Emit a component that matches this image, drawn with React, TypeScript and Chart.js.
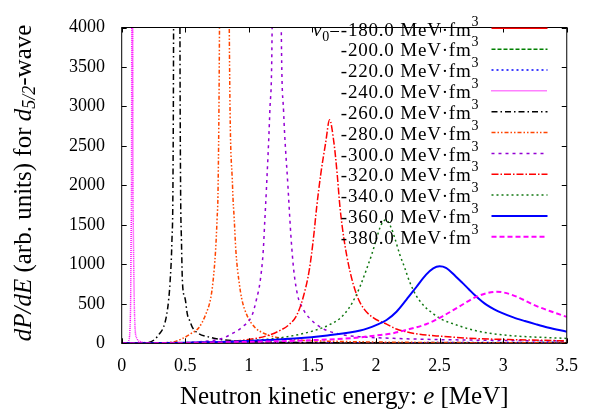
import React, { useEffect, useRef } from "react";
import { Chart, registerables } from "chart.js";
Chart.register(...registerables);

const xTickValues = [0, 0.5, 1, 1.5, 2, 2.5, 3, 3.5];
const yTickValues = [0, 500, 1000, 1500, 2000, 2500, 3000, 3500, 4000];
const potentialLabels = ["-180.0", "-200.0", "-220.0", "-240.0", "-260.0", "-280.0", "-300.0", "-320.0", "-340.0", "-360.0", "-380.0"];

// energies (MeV) and dP/dE values per potential
const e180 = [0, 0.5, 1, 1.5, 2, 2.5, 3, 3.5];
const p180 = [0, 1, 2, 3, 4, 5, 6, 7];
const e200 = [0, 0.5, 1, 1.5, 2, 2.5, 3, 3.5];
const p200 = [0, 1, 2, 4, 5, 7, 8, 9];
const e220 = [0, 0.5, 1, 1.5, 2, 2.5, 3, 3.5];
const p220 = [0, 2, 3, 5, 7, 9, 11, 12];
const e240 = [0, 0.04, 0.055, 0.064, 0.07, 0.075, 0.079, 0.083, 0.087, 0.091, 0.098, 0.105, 0.12, 0.15, 0.2, 0.4, 1.0, 2.0, 3.5];
const p240 = [0, 5, 30, 150, 500, 1500, 4000, 40000, 4000, 1500, 600, 200, 60, 20, 8, 3, 1, 0.5, 0];
const e260 = [0, 0.1, 0.2, 0.259, 0.297, 0.328, 0.354, 0.37, 0.38, 0.395, 0.403, 0.408, 0.433, 0.458, 0.463, 0.47, 0.478, 0.499, 0.517, 0.536, 0.556, 0.608, 0.686, 0.776, 0.9, 1.0, 1.5, 2.0, 2.5, 3.0, 3.5];
const p260 = [0, 1, 6, 48, 121, 201, 363, 564, 766, 1300, 2000, 4000, 30000, 4000, 2000, 1300, 766, 564, 363, 282, 201, 121, 80, 48, 30, 22, 10, 6, 4, 3, 2];
const e280 = [0, 0.2, 0.4, 0.478, 0.543, 0.608, 0.66, 0.699, 0.717, 0.738, 0.75, 0.758, 0.769, 0.807, 0.846, 0.872, 0.885, 0.898, 0.924, 0.944, 0.983, 1.048, 1.126, 1.25, 1.4, 1.6, 2.0, 2.5, 3.0, 3.5];
const p280 = [0, 3, 15, 60, 121, 201, 363, 564, 766, 1169, 1573, 1976, 4000, 20000, 4000, 1976, 1573, 1169, 766, 564, 363, 201, 121, 65, 40, 28, 16, 10, 7, 5];
const e300 = [0, 0.3, 0.5, 0.65, 0.789, 0.866, 0.944, 1.027, 1.061, 1.087, 1.113, 1.126, 1.138, 1.165, 1.183, 1.22, 1.255, 1.273, 1.307, 1.332, 1.353, 1.384, 1.423, 1.475, 1.565, 1.7, 1.9, 2.1, 2.4, 2.8, 3.2, 3.5];
const p300 = [0, 3, 8, 25, 60, 121, 201, 363, 564, 766, 1169, 1573, 1950, 2943, 4000, 15000, 4000, 2943, 2000, 1331, 927, 605, 443, 322, 201, 121, 80, 65, 50, 40, 33, 30];
const e320 = [0, 0.5, 0.8, 1.048, 1.151, 1.229, 1.32, 1.379, 1.431, 1.475, 1.508, 1.534, 1.565, 1.604, 1.635, 1.669, 1.695, 1.716, 1.747, 1.793, 1.85, 1.902, 1.98, 2.083, 2.16, 2.316, 2.52, 2.78, 3.04, 3.5];
const p320 = [0, 5, 20, 60, 100, 150, 242, 363, 605, 927, 1331, 1734, 2137, 2541, 2830, 2541, 2137, 1734, 1331, 927, 605, 443, 322, 242, 181, 121, 88, 60, 48, 31];
const e340 = [0, 0.5, 1.0, 1.2, 1.359, 1.514, 1.643, 1.721, 1.786, 1.843, 1.876, 1.923, 1.967, 2.005, 2.035, 2.077, 2.115, 2.148, 2.186, 2.225, 2.264, 2.316, 2.368, 2.446, 2.52, 2.601, 2.78, 3.04, 3.377, 3.5];
const p340 = [0, 8, 35, 60, 100, 161, 242, 322, 443, 605, 726, 927, 1129, 1331, 1480, 1565, 1480, 1331, 1129, 960, 780, 605, 490, 380, 300, 250, 161, 100, 70, 62];
const e360 = [0, 0.5, 1.0, 1.359, 1.617, 1.876, 2.005, 2.083, 2.161, 2.238, 2.316, 2.394, 2.45, 2.5, 2.55, 2.627, 2.68, 2.73, 2.78, 2.834, 2.87, 2.93, 2.989, 3.08, 3.17, 3.26, 3.35, 3.5];
const p360 = [0, 8, 30, 60, 100, 161, 234, 295, 400, 550, 710, 870, 950, 975, 955, 847, 765, 685, 605, 530, 487, 430, 385, 328, 282, 240, 201, 147];
const e380 = [0, 0.5, 1.0, 1.5, 1.8, 2.005, 2.135, 2.264, 2.394, 2.523, 2.652, 2.782, 2.85, 2.95, 3.0, 3.1, 3.25, 3.4, 3.5];
const p380 = [0, 5, 18, 40, 65, 100, 128, 181, 242, 342, 463, 584, 625, 653, 645, 595, 480, 390, 335];

const seriesE = [e180, e200, e220, e240, e260, e280, e300, e320, e340, e360, e380];
const seriesP = [p180, p200, p220, p240, p260, p280, p300, p320, p340, p360, p380];

const lineColors = ["#ff0000", "#008000", "#0000ff", "#ff00ff", "#000000", "#ff4500", "#9400d3", "#ff0000", "#117711", "#0000ff", "#ff00ff"];
const lineDashes = [[], [4, 2], [2, 3], [1, 1], [6, 3, 1.5, 3], [4, 2, 1.5, 2, 1.5, 2], [3, 4], [7, 2, 1.5, 2], [2, 3], [], [5, 3]];
const lineWidths = [1.5, 1.5, 1.5, 1.5, 1.5, 1.5, 1.5, 1.5, 1.5, 2, 2];

const SERIF = "'Liberation Serif', 'Times New Roman', serif";

type Piece = { t: string; font: string; dy?: number; sp?: number };

function pieceWidth(ctx: CanvasRenderingContext2D, p: Piece) {
  ctx.font = p.font;
  if (!p.sp) return ctx.measureText(p.t).width;
  let w = 0;
  for (const ch of p.t) w += ctx.measureText(ch).width + p.sp;
  return w;
}

function drawRich(ctx: CanvasRenderingContext2D, pieces: Piece[], x: number, y: number, align: string) {
  let w = 0;
  for (const p of pieces) w += pieceWidth(ctx, p);
  let cx = align === "right" ? x - w : align === "center" ? x - w / 2 : x;
  ctx.textAlign = "left";
  ctx.textBaseline = "alphabetic";
  for (const p of pieces) {
    ctx.font = p.font;
    if (!p.sp) {
      ctx.fillText(p.t, cx, y + (p.dy || 0));
      cx += ctx.measureText(p.t).width;
    } else {
      for (const ch of p.t) {
        ctx.fillText(ch, cx, y + (p.dy || 0));
        cx += ctx.measureText(ch).width + p.sp;
      }
    }
  }
}

const decorPlugin = {
  id: "decor",
  afterDraw(chart: any) {
    const ctx: CanvasRenderingContext2D = chart.ctx;
    const { left, right, top, bottom } = chart.chartArea;
    const xs = chart.scales.x;
    const ys = chart.scales.y;
    ctx.save();
    ctx.strokeStyle = "#000";
    ctx.lineWidth = 1;
    ctx.setLineDash([]);
    ctx.strokeRect(left, top, right - left, bottom - top);
    ctx.beginPath();
    for (const v of xTickValues) {
      const px = Math.round(xs.getPixelForValue(v)) + 0.5;
      ctx.moveTo(px, bottom); ctx.lineTo(px, bottom - 5);
      ctx.moveTo(px, top); ctx.lineTo(px, top + 5);
    }
    for (const v of yTickValues) {
      const py = Math.round(ys.getPixelForValue(v)) + 0.5;
      ctx.moveTo(left, py); ctx.lineTo(left + 5, py);
      ctx.moveTo(right, py); ctx.lineTo(right - 5, py);
    }
    ctx.stroke();

    ctx.fillStyle = "#000";
    drawRich(ctx, [
      { t: "Neutron kinetic energy: ", font: `25px ${SERIF}` },
      { t: "e", font: `italic 25px ${SERIF}` },
      { t: " [MeV]", font: `25px ${SERIF}` },
    ], (left + right) / 2, 404, "center");

    ctx.save();
    ctx.translate(31, 183);
    ctx.rotate(-Math.PI / 2);
    drawRich(ctx, [
      { t: "dP/dE", font: `italic 25px ${SERIF}` },
      { t: " (arb. units) for ", font: `25px ${SERIF}` },
      { t: "d", font: `italic 25px ${SERIF}` },
      { t: "5/2", font: `italic 18px ${SERIF}`, dy: 4 },
      { t: "-wave", font: `25px ${SERIF}` },
    ], 0, 0, "center");
    ctx.restore();

    for (let k = 0; k < potentialLabels.length; k++) {
      const lineY = 28.3 + 20.85 * k;
      const baseY = 35.5 + 20.85 * k;
      const pieces: Piece[] = [];
      if (k === 0) {
        pieces.push({ t: "v", font: `italic 19px ${SERIF}`, sp: 0.8 });
        pieces.push({ t: "0", font: `14px ${SERIF}`, dy: 5 });
        pieces.push({ t: "=" + potentialLabels[k] + " MeV·fm", font: `19px ${SERIF}`, sp: 0.8 });
      } else {
        pieces.push({ t: potentialLabels[k] + " MeV·fm", font: `19px ${SERIF}`, sp: 0.8 });
      }
      pieces.push({ t: "3", font: `14px ${SERIF}`, dy: -10 });
      drawRich(ctx, pieces, 478.5, baseY, "right");
      ctx.beginPath();
      ctx.strokeStyle = lineColors[k];
      ctx.lineWidth = lineWidths[k];
      ctx.setLineDash(lineDashes[k]);
      ctx.moveTo(491.5, lineY);
      ctx.lineTo(547.5, lineY);
      ctx.stroke();
    }
    ctx.restore();
  },
};

export default function App() {
  const ref = useRef<HTMLCanvasElement | null>(null);
  useEffect(() => {
    if (!ref.current) return;
    const datasets = seriesE.map((xs, i) => ({
      label: potentialLabels[i],
      data: xs.map((x, j) => ({ x, y: seriesP[i][j] })),
      borderColor: lineColors[i],
      borderDash: lineDashes[i],
      borderWidth: lineWidths[i],
      pointRadius: 0,
      fill: false,
      cubicInterpolationMode: "monotone" as const,
      order: 20 - i,
    }));
    const chart = new Chart(ref.current, {
      type: "line",
      data: { datasets },
      options: {
        animation: false,
        responsive: false,
        maintainAspectRatio: false,
        devicePixelRatio: 1,
        layout: { padding: { top: 12.7, right: 17.5, left: 0, bottom: 0 } },
        plugins: { legend: { display: false }, tooltip: { enabled: false } },
        scales: {
          x: {
            type: "linear",
            min: 0,
            max: 3.5,
            afterBuildTicks: (s: any) => { s.ticks = xTickValues.map((v) => ({ value: v })); },
            afterFit: (s: any) => { s.height = 72.7; },
            grid: { display: false, drawTicks: false },
            border: { display: false },
            ticks: {
              color: "#000",
              padding: 12,
              maxRotation: 0,
              autoSkip: false,
              font: { family: "'Liberation Serif', serif", size: 18 },
              callback: (v: any) => String(v),
            },
          },
          y: {
            type: "linear",
            min: 0,
            max: 4000,
            afterBuildTicks: (s: any) => { s.ticks = yTickValues.map((v) => ({ value: v })); },
            afterFit: (s: any) => { s.width = 121.7; },
            grid: { display: false, drawTicks: false },
            border: { display: false },
            ticks: {
              color: "#000",
              padding: 16.7,
              autoSkip: false,
              font: { family: "'Liberation Serif', serif", size: 18 },
              callback: (v: any) => String(v),
            },
          },
        },
      },
      plugins: [decorPlugin],
    });
    return () => chart.destroy();
  }, []);
  return (
    <div style={{ position: "absolute", left: 0, top: 0, width: 590, height: 416, background: "#fff" }}>
      <canvas ref={ref} width={590} height={416} style={{ display: "block", width: 590, height: 416 }} />
    </div>
  );
}
